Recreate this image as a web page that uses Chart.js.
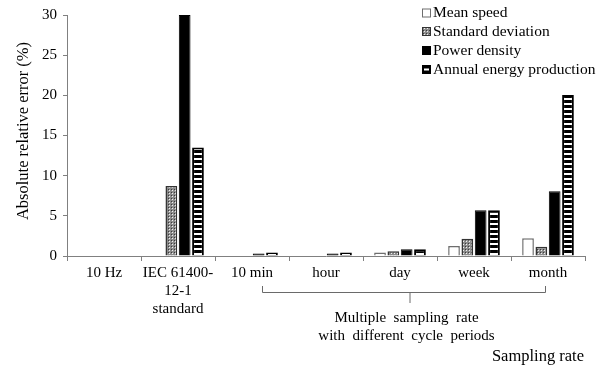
<!DOCTYPE html>
<html>
<head>
<meta charset="utf-8">
<script src="https://cdn.jsdelivr.net/npm/chart.js@4.4.1/dist/chart.umd.min.js"></script>
<style>
    html, body { margin: 0; padding: 0; background: #fff; }
    #chart { display: block; }
</style>
</head>
<body>
<canvas id="chart" width="606" height="368"></canvas>
<script>
const categories = ['10 Hz', ['IEC 61400-', '12-1', 'standard'], '10 min', 'hour', 'day', 'week', 'month'];
const seriesNames = ['Mean speed', 'Standard deviation', 'Power density', 'Annual energy production'];
const meanSpeed  = [0, 0,    0,    0,    0.45, 1.25, 2.2];
const stdDev     = [0, 8.7,  0,    0,    0.6,  2.15, 1.15];
const powerDens  = [0, 30,   0.3,  0.3,  0.85, 5.7,  8.05];
const annualProd = [0, 13.5, 0.45, 0.45, 0.85, 5.7,  20.05];
const yTicks = [0, 5, 10, 15, 20, 25, 30];

const FONT = "'Liberation Serif', 'Times New Roman', serif";

function makePattern(w, h, paint) {
    const c = document.createElement('canvas');
    c.width = w; c.height = h;
    paint(c.getContext('2d'));
    return document.getElementById('chart').getContext('2d').createPattern(c, 'repeat');
}

// fine grey check for the std deviation bars
const checker = makePattern(3, 3, ctx => {
    ctx.fillStyle = '#8c8c8c'; ctx.fillRect(0, 0, 3, 3);
    ctx.fillStyle = '#f0f0f0'; ctx.fillRect(1, 1, 1, 1);
    ctx.fillStyle = '#3c3c3c'; ctx.fillRect(0, 0, 1, 1);
});

const stripes = makePattern(5, 5, ctx => {
    ctx.fillStyle = '#000'; ctx.fillRect(0, 0, 5, 5);
    ctx.fillStyle = '#fff'; ctx.fillRect(0, 3, 5, 2);
});

const styles = [
    { bg: '#ffffff', border: '#6e6e6e', width: 1.5 },
    { bg: checker,   border: '#333333', width: 1.5 },
    { bg: '#000000', border: '#000000', width: 1 },
    { bg: stripes,   border: '#000000', width: 2 },
];

const values = [meanSpeed, stdDev, powerDens, annualProd];

const annotations = {
    id: 'annotations',
    afterDraw(chart) {
        const ctx = chart.ctx;
        const x = chart.scales.x;
        ctx.save();

        // y axis title
        ctx.fillStyle = '#000';
        ctx.font = '16.5px ' + FONT;
        ctx.textAlign = 'center';
        ctx.textBaseline = 'middle';
        ctx.translate(24, 131);
        ctx.rotate(-Math.PI / 2);
        ctx.fillText('Absolute relative error (%)', 0, 0);
        ctx.setTransform(1, 0, 0, 1, 0, 0);

        // bracket under the multiple sampling categories
        const left  = x.getPixelForValue(2) + 10;
        const right = x.getPixelForValue(6) - 3;
        const mid   = (left + right) / 2 + 6;
        ctx.strokeStyle = '#6a6a6a';
        ctx.lineWidth = 1;
        ctx.beginPath();
        ctx.moveTo(left + 0.5, 286);
        ctx.lineTo(left + 0.5, 292.5);
        ctx.lineTo(right + 0.5, 292.5);
        ctx.lineTo(right + 0.5, 286);
        ctx.moveTo(mid + 0.5, 292.5);
        ctx.lineTo(mid + 0.5, 303);
        ctx.stroke();

        ctx.fillStyle = '#000';
        ctx.font = '15px ' + FONT;
        ctx.textAlign = 'center';
        ctx.fillText('Multiple  sampling  rate', mid - 3, 318);
        ctx.fillText('with  different  cycle  periods', mid - 3, 336);
        ctx.textAlign = 'right';
        ctx.font = '16.5px ' + FONT;
        ctx.fillText('Sampling rate', 584, 357);

        // legend
        ctx.font = '15.5px ' + FONT;
        ctx.textAlign = 'left';
        const rowsY = [13, 31.5, 50.5, 69.5];
        seriesNames.forEach((name, i) => {
            const by = rowsY[i] - 4.5;
            const bx = 422;
            const s = styles[i];
            if (i === 3) {
                ctx.fillStyle = '#000';
                ctx.fillRect(bx, by, 9, 9);
                ctx.fillStyle = '#fff';
                ctx.fillRect(bx + 2, by + 3.5, 5, 2);
            } else {
                ctx.fillStyle = s.bg;
                ctx.fillRect(bx, by, 9, 9);
                ctx.strokeStyle = s.border;
                ctx.lineWidth = 1;
                ctx.strokeRect(bx + 0.5, by + 0.5, 8, 8);
            }
            ctx.fillStyle = '#000';
            ctx.fillText(name, 433, rowsY[i]);
        });
        ctx.restore();
    }
};

new Chart(document.getElementById('chart'), {
    type: 'bar',
    data: {
        labels: categories,
        datasets: seriesNames.map((name, i) => ({
            label: name,
            data: values[i],
            backgroundColor: styles[i].bg,
            borderColor: styles[i].border,
            borderWidth: styles[i].width,
            categoryPercentage: 0.72,
            barPercentage: 0.88,
        })),
    },
    options: {
        responsive: false,
        animation: false,
        layout: { padding: { top: 15, right: 21, left: 0, bottom: 0 } },
        plugins: {
            legend: { display: false },
            tooltip: { enabled: false },
        },
        scales: {
            x: {
                grid: { offset: true, drawOnChartArea: false, tickLength: 5, color: '#808080' },
                border: { color: '#808080' },
                ticks: {
                    color: '#000',
                    font: { family: FONT, size: 15 },
                    maxRotation: 0,
                    autoSkip: false,
                    padding: 3,
                },
                afterFit: scale => { scale.height = 112; },
            },
            y: {
                min: 0,
                max: 30,
                afterBuildTicks: scale => { scale.ticks = yTicks.map(v => ({ value: v })); },
                grid: { drawOnChartArea: false, tickLength: 4, color: '#808080' },
                border: { color: '#808080' },
                ticks: {
                    color: '#000',
                    font: { family: FONT, size: 15 },
                    padding: 6,
                },
                afterFit: scale => { scale.width = 67; },
            },
        },
    },
    plugins: [annotations],
});
</script>
</body>
</html>
